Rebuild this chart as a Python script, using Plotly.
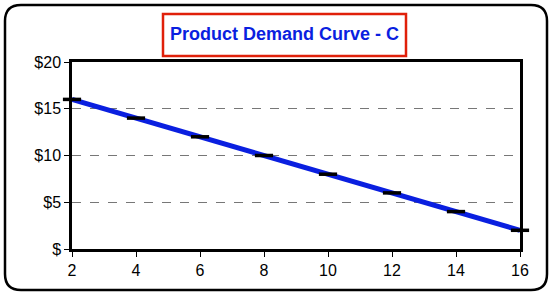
import plotly.graph_objects as go

quantity = [2, 4, 6, 8, 10, 12, 14, 16]
price = [16, 14, 12, 10, 8, 6, 4, 2]
y_ticks = [0, 5, 10, 15, 20]
y_tick_labels = ["$", "$5", "$10", "$15", "$20"]
title_text = "Product Demand Curve - C"

W, H = 551, 295
L, R, T, B = 72, 520, 62, 249
pw, ph = R - L, B - T

def px(x):
    return (x - L) / pw

def py(y):
    return (B - y) / ph

fig = go.Figure()
fig.add_trace(go.Scatter(
    x=quantity, y=price, mode="lines+markers",
    line=dict(color="#0a1fe0", width=5),
    marker=dict(symbol="line-ew", size=13, line=dict(color="black", width=3.5)),
    showlegend=False, cliponaxis=False,
))

# outer rounded border (pixel coords -> paper coords)
x0, x1, y0, y1, r = 5, 547, 5, 290, 16
path = (
    f"M {px(x0+r)},{py(y0)} L {px(x1-r)},{py(y0)} "
    f"Q {px(x1)},{py(y0)} {px(x1)},{py(y0+r)} "
    f"L {px(x1)},{py(y1-r)} Q {px(x1)},{py(y1)} {px(x1-r)},{py(y1)} "
    f"L {px(x0+r)},{py(y1)} Q {px(x0)},{py(y1)} {px(x0)},{py(y1-r)} "
    f"L {px(x0)},{py(y0+r)} Q {px(x0)},{py(y0)} {px(x0+r)},{py(y0)} Z"
)
fig.add_shape(type="path", path=path, xref="paper", yref="paper",
              line=dict(color="black", width=2.5), layer="above")

# title box
fig.add_shape(type="rect", xref="paper", yref="paper",
              x0=px(163), x1=px(406), y0=py(56), y1=py(14),
              line=dict(color="#e0200a", width=2.5), fillcolor="white")
fig.add_annotation(text=f"<b>{title_text}</b>", xref="paper", yref="paper",
                   x=px(284.5), y=py(34), showarrow=False,
                   font=dict(family="Liberation Sans, Arial", size=18, color="#0a1fe0"),
                   xanchor="center", yanchor="middle")

fig.update_layout(
    width=W, height=H,
    margin=dict(l=L, r=W - R, t=T, b=H - B, pad=0),
    paper_bgcolor="white", plot_bgcolor="white",
    font=dict(family="Liberation Sans, Arial", size=16, color="black"),
)
fig.update_xaxes(
    range=[2, 16], tickvals=quantity, ticks="outside", ticklen=5, tickwidth=1,
    tickcolor="black", showline=True, linecolor="black", linewidth=2.5, mirror=True,
    showgrid=False, zeroline=False, tickfont=dict(size=16),
)
fig.update_yaxes(
    range=[0, 20], tickvals=y_ticks, ticktext=y_tick_labels, ticks="outside",
    ticklen=5, tickwidth=1, tickcolor="black", showline=True, linecolor="black",
    linewidth=2.5, mirror=True, showgrid=True, gridcolor="#777777", griddash="dash",
    gridwidth=1, zeroline=False, tickfont=dict(size=16),
)
fig.write_html("out.html", config={"displayModeBar": False},
               post_script="document.body.style.margin='0';document.body.style.padding='0';document.body.style.overflow='hidden';")
